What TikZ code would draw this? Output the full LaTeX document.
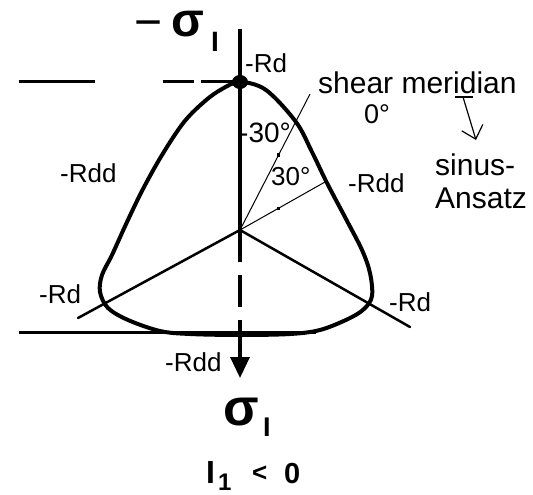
\documentclass[tikz,border=0pt]{standalone}
\usepackage{fontspec}
\setmainfont{Liberation Sans}
\usetikzlibrary{arrows.meta}
\newcommand\fsz[1]{\fontsize{#1}{#1}\selectfont}
\begin{document}
\begin{tikzpicture}[x=1pt,y=-1pt,
  lbl/.style={inner sep=0pt, anchor=base west, font=\fsz{26}},
  txt/.style={inner sep=0pt, anchor=base west, font=\fsz{30}},
  curve/.style={line width=4pt, line join=round},
  axis/.style={line width=3.5pt},
  hline/.style={line width=3pt},
  radial/.style={line width=2.5pt, line cap=round},
  shear/.style={line width=1pt},
  sdot/.style={fill, inner sep=0pt, minimum size=3.5pt, rectangle},
  thin arrow/.style={line width=1.2pt}]
\useasboundingbox (0,0) rectangle (533,495);
% key points
\coordinate (C) at (240,230);
\coordinate (T) at (240,82);
\coordinate (Atop) at (240,29);
\coordinate (Adash) at (240,325);
\coordinate (Atip) at (240,378);
\coordinate (LL) at (78,318);
\coordinate (LR) at (410,327);
\coordinate (S1) at (310,94);
\coordinate (S2) at (325,182);
\coordinate (HL1) at (19,82);
\coordinate (HL2) at (95,82);
\coordinate (HD1) at (163,82);
\coordinate (HD2) at (194,82);
\coordinate (HD3) at (201,82);
\coordinate (BL1) at (19,332);
\coordinate (BL2) at (316,332);
% yield curve
\draw[curve] plot[smooth cycle, tension=0.55] coordinates {
  (240,82) (266,90) (296,122) (312,152) (327,183) (346,219) (362,250)
  (370,273) (372,296) (364,309) (348,319) (320,330) (290,334) (240,335)
  (190,334) (160,331) (128,320) (108,308) (100,292) (102,275) (112,255)
  (127,222) (143,189) (162,155) (184,122) (205,101) (222,89)};
% axes and lines
\draw[axis] (Atop) -- (C);
\draw[axis, dash pattern=on 32pt off 13pt] (C) -- (Adash);
\draw[axis, -{Triangle[length=21pt,width=19pt]}] (Adash) -- (Atip);
\draw[hline] (HL1) -- (HL2);
\draw[hline] (HD1) -- (HD2);
\draw[hline] (HD3) -- (T);
\draw[hline] (BL1) -- (BL2);
\draw[radial] (C) -- (LL);
\draw[radial] (C) -- (LR);
\draw[shear] (C) -- node[pos=0.55, sdot]{} (S1);
\draw[shear] (C) -- node[pos=0.45, sdot]{} (S2);
\fill (T) circle[x radius=8pt, y radius=7pt];
% labels
\node[inner sep=0pt, anchor=base west, font=\fsz{48}] (minus) at (134,39) {−};
\node[inner sep=0pt, anchor=base west, font=\bfseries\fsz{48}] (sigtop) at (171,37) {σ};
\node[inner sep=0pt, anchor=base west, font=\bfseries\fsz{28}] (subtop) at (211,52) {I};
\node[inner sep=0pt, anchor=base west, font=\bfseries\fsz{52}] (sigbot) at (223,425) {σ};
\node[inner sep=0pt, anchor=base west, font=\bfseries\fsz{27}] (subbot) at (263,436) {I};
\node[inner sep=0pt, anchor=base west, font=\bfseries\fsz{32}] (Ione) at (206,483) {I};
\node[inner sep=0pt, anchor=base west, font=\bfseries\fsz{24}] (one) at (218,490) {1};
\node[inner sep=0pt, anchor=base west, font=\bfseries\fsz{26}] (lt) at (252,481) {<};
\node[inner sep=0pt, anchor=base west, font=\bfseries\fsz{29}] (zero) at (284,483) {0};
\node[lbl] (rdtop) at (245,73) {-Rd};
\node[lbl] (rdl) at (39,303) {-Rd};
\node[lbl] (rdr) at (389,311) {-Rd};
\node[lbl] (rddl) at (60,182) {-Rdd};
\node[lbl] (rddr) at (348,192) {-Rdd};
\node[lbl] (rddb) at (165,371) {-Rdd};
\node[inner sep=0pt, anchor=base west, font=\fsz{28}] (a1) at (239,142) {-30°};
\node[lbl] (a2) at (271,185) {30°};
\node[txt] (shear) at (318,93) {shear meridian};
\node[inner sep=0pt, anchor=base west, font=\fsz{27}] (zdeg) at (364,123) {0°};
\node[txt] (sinus) at (435,175) {sinus-};
\node[txt] (ansatz) at (435,208) {Ansatz};
% sinus arrow
\coordinate (U1) at (455,97);
\coordinate (U2) at (473,97);
\coordinate (Us) at (463,97);
\coordinate (Ue) at (476,140);
\draw[thin arrow] (U1) -- (U2);
\draw[thin arrow, -{Straight Barb[length=12pt,width=22pt]}] (Us) -- (Ue);
\end{tikzpicture}
\end{document}
